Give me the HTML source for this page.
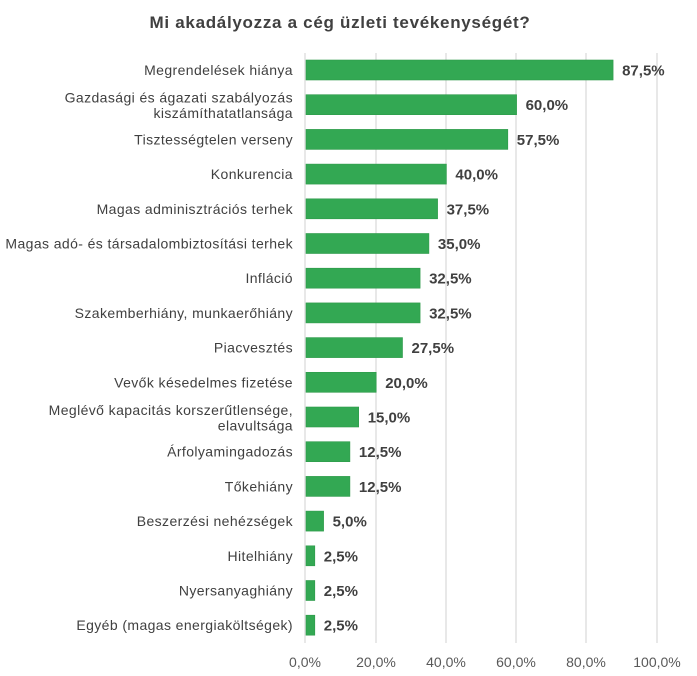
<!DOCTYPE html>
<html><head><meta charset="utf-8"><style>
body{margin:0;background:#fff;}
svg{display:block;font-family:"Liberation Sans",sans-serif;}
</style></head><body>
<svg width="697" height="676" xmlns="http://www.w3.org/2000/svg">
<text x="340" y="28" text-anchor="middle" font-size="17" font-weight="bold" fill="#404040" letter-spacing="0.7">Mi akadályozza a cég üzleti tevékenységét?</text>
<g stroke="#d9d9d9" stroke-width="1.2">
<line x1="376" y1="53" x2="376" y2="643"/><line x1="446" y1="53" x2="446" y2="643"/>
<line x1="516" y1="53" x2="516" y2="643"/><line x1="586" y1="53" x2="586" y2="643"/>
<line x1="657" y1="53" x2="657" y2="643"/><line x1="305" y1="53" x2="305" y2="643"/>
</g>
<g font-size="14" fill="#595959" text-anchor="middle">
<text x="305" y="667">0,0%</text><text x="376" y="667">20,0%</text><text x="446" y="667">40,0%</text>
<text x="516" y="667">60,0%</text><text x="586" y="667">80,0%</text><text x="657" y="667">100,0%</text>
</g>
<g fill="#33a853" stroke="#2e9a4a" stroke-width="0.6">
<rect x="306" y="60" width="307.1" height="20"/>
<rect x="306" y="94.7" width="210.6" height="20"/>
<rect x="306" y="129.4" width="201.8" height="20"/>
<rect x="306" y="164.1" width="140.4" height="20"/>
<rect x="306" y="198.8" width="131.6" height="20"/>
<rect x="306" y="233.5" width="122.9" height="20"/>
<rect x="306" y="268.2" width="114.1" height="20"/>
<rect x="306" y="302.9" width="114.1" height="20"/>
<rect x="306" y="337.6" width="96.5" height="20"/>
<rect x="306" y="372.3" width="70.2" height="20"/>
<rect x="306" y="407" width="52.7" height="20"/>
<rect x="306" y="441.7" width="43.9" height="20"/>
<rect x="306" y="476.4" width="43.9" height="20"/>
<rect x="306" y="511.1" width="17.6" height="20"/>
<rect x="306" y="545.8" width="8.8" height="20"/>
<rect x="306" y="580.5" width="8.8" height="20"/>
<rect x="306" y="615.2" width="8.8" height="20"/>
</g>
<g font-size="15" font-weight="bold" fill="#404040">
<text x="622.1" y="75.5">87,5%</text>
<text x="525.6" y="110.2">60,0%</text>
<text x="516.8" y="144.9">57,5%</text>
<text x="455.4" y="179.6">40,0%</text>
<text x="446.6" y="214.3">37,5%</text>
<text x="437.9" y="249">35,0%</text>
<text x="429.1" y="283.7">32,5%</text>
<text x="429.1" y="318.4">32,5%</text>
<text x="411.5" y="353.1">27,5%</text>
<text x="385.2" y="387.8">20,0%</text>
<text x="367.7" y="422.5">15,0%</text>
<text x="358.9" y="457.2">12,5%</text>
<text x="358.9" y="491.9">12,5%</text>
<text x="332.6" y="526.6">5,0%</text>
<text x="323.8" y="561.3">2,5%</text>
<text x="323.8" y="596">2,5%</text>
<text x="323.8" y="630.7">2,5%</text>
</g>
<g font-size="14" fill="#404040" text-anchor="end" letter-spacing="0.4">
<text x="293" y="75">Megrendelések hiánya</text>
<text x="293" y="102.7">Gazdasági és ágazati szabályozás</text>
<text x="293" y="118">kiszámíthatatlansága</text>
<text x="293" y="144.4">Tisztességtelen verseny</text>
<text x="293" y="179.1">Konkurencia</text>
<text x="293" y="213.8">Magas adminisztrációs terhek</text>
<text x="293" y="248.5">Magas adó- és társadalombiztosítási terhek</text>
<text x="293" y="283.2">Infláció</text>
<text x="293" y="317.9">Szakemberhiány, munkaerőhiány</text>
<text x="293" y="352.6">Piacvesztés</text>
<text x="293" y="387.3">Vevők késedelmes fizetése</text>
<text x="293" y="415">Meglévő kapacitás korszerűtlensége,</text>
<text x="293" y="430.5">elavultsága</text>
<text x="293" y="456.7">Árfolyamingadozás</text>
<text x="293" y="491.4">Tőkehiány</text>
<text x="293" y="526.1">Beszerzési nehézségek</text>
<text x="293" y="560.8">Hitelhiány</text>
<text x="293" y="595.5">Nyersanyaghiány</text>
<text x="293" y="630.2">Egyéb (magas energiaköltségek)</text>
</g>
</svg>
</body></html>
